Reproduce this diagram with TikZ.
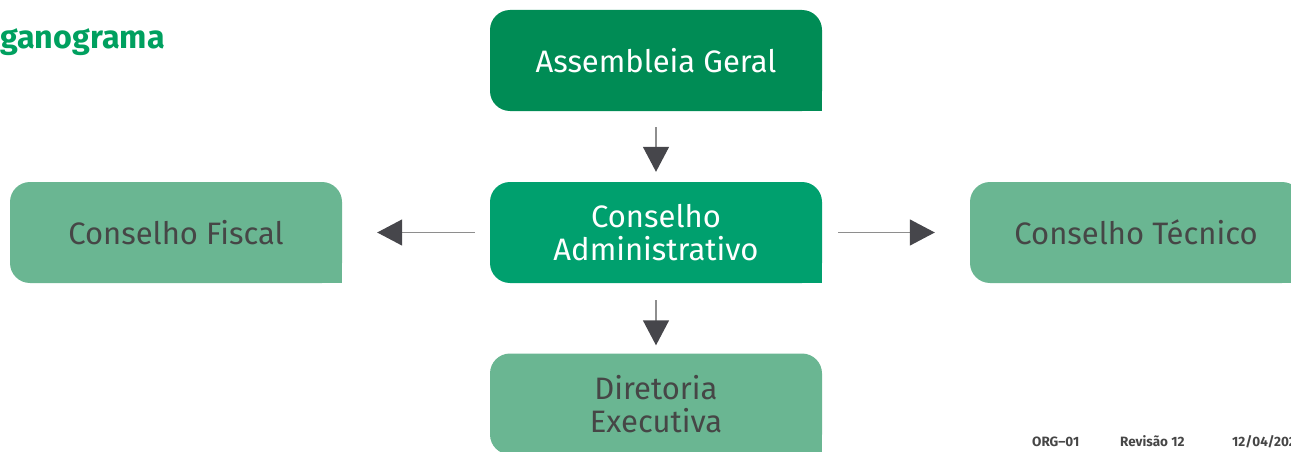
\documentclass[tikz,border=0pt]{standalone}
\usepackage{fontspec}
\setmainfont{Fira Sans}
\usetikzlibrary{arrows.meta}
\definecolor{dkgreen}{HTML}{008C55}
\definecolor{midgreen}{HTML}{00A06E}
\definecolor{ltgreen}{HTML}{6AB692}
\definecolor{titlegreen}{HTML}{00A05F}
\definecolor{txtgray}{HTML}{464646}
\definecolor{linegray}{HTML}{8E8E8E}
\definecolor{headgray}{HTML}{46464B}
\tikzset{
  box/.style={minimum width=332pt, minimum height=101pt, inner sep=0pt, rounded corners=20pt, align=center, font=\fontsize{31}{33}\selectfont},
  conn/.style={draw=linegray, line width=1.4pt, -{Triangle[length=25pt,width=26pt,color=headgray]}},
  foot/.style={anchor=base west, inner sep=0pt, text=txtgray, font=\fontsize{13.5}{16}\selectfont\bfseries},
}
\begin{document}
\begin{tikzpicture}[x=1pt,y=-1pt]
\useasboundingbox (0,0) rectangle (1291,452);
\clip (0,0) rectangle (1291,452);
% title
\node[anchor=base west, inner sep=0pt, text=titlegreen, font=\fontsize{32.3}{38}\selectfont\bfseries] (title) at (0,49) {\llap{Or}ganograma};
% boxes
\node[box, fill=dkgreen, text=white] (ag) at (656,60.5) {Assembleia Geral};
\fill[dkgreen] (ag.south east) rectangle ++(-22,-22);
\node[box, fill=midgreen, text=white] (ca) at (656,232.5) {Conselho\\Administrativo};
\fill[midgreen] (ca.south east) rectangle ++(-22,-22);
\node[box, fill=ltgreen, text=txtgray] (cf) at (176,232.5) {Conselho Fiscal};
\fill[ltgreen] (cf.south east) rectangle ++(-22,-22);
\node[box, fill=ltgreen, text=txtgray] (ct) at (1136,232.5) {Conselho Técnico};
\fill[ltgreen] (ct.south east) rectangle ++(-22,-22);
\node[box, fill=ltgreen, text=txtgray] (de) at (656,404) {Diretoria\\Executiva};
\fill[ltgreen] (de.south east) rectangle ++(-22,-22);
% connectors
\draw[conn, shorten <=16pt, shorten >=10pt] (ag.south) -- (ca.north);
\draw[conn, shorten <=17pt, shorten >=8pt] (ca.south) -- (de.north);
\draw[conn, shorten <=15pt, shorten >=35pt] (ca.west) -- (cf.east);
\draw[conn, shorten <=16pt, shorten >=35pt] (ca.east) -- (ct.west);
% footer
\node[foot] (f1) at (1032,446) {ORG–01};
\node[foot] (f2) at (1120,446) {Revisão 12};
\node[foot] (f3) at (1232,446) {12/04/2024};
\end{tikzpicture}
\end{document}
